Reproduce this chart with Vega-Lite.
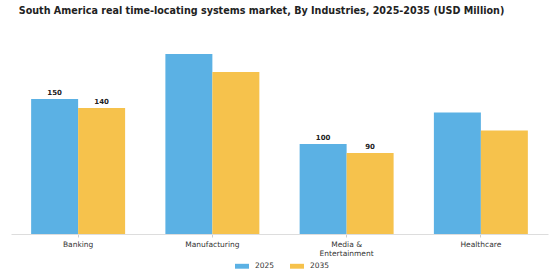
{
  "$schema": "https://vega.github.io/schema/vega-lite/v6.json",
  "autosize": "none",
  "width": 537,
  "height": 198,
  "padding": {"left": 11, "top": 36, "right": 12, "bottom": 46},
  "background": "white",
  "title": {
    "text": "South America real time-locating systems market, By Industries, 2025-2035 (USD Million)",
    "font": "DejaVu Sans",
    "fontSize": 9.6,
    "fontWeight": "bold",
    "color": "#222222",
    "anchor": "middle",
    "dx": -18,
    "offset": 20
  },
  "config": {
    "view": {"stroke": null},
    "font": "DejaVu Sans"
  },
  "data": {
    "values": [
      {"Industry": "Banking", "Year": "2025", "Value": 150},
      {"Industry": "Banking", "Year": "2035", "Value": 140},
      {"Industry": "Manufacturing", "Year": "2025", "Value": 200},
      {"Industry": "Manufacturing", "Year": "2035", "Value": 180},
      {"Industry": "Media & Entertainment", "Year": "2025", "Value": 100},
      {"Industry": "Media & Entertainment", "Year": "2035", "Value": 90},
      {"Industry": "Healthcare", "Year": "2025", "Value": 135},
      {"Industry": "Healthcare", "Year": "2035", "Value": 115}
    ]
  },
  "encoding": {
    "x": {
      "field": "Industry",
      "type": "nominal",
      "sort": null,
      "scale": {"paddingInner": 0.3, "paddingOuter": 0.15},
      "axis": {
        "title": null,
        "labelAngle": 0,
        "labelFontSize": 7.5,
        "labelColor": "#333333",
        "labelPadding": 3,
        "labelExpr": "datum.label == 'Media & Entertainment' ? ['Media &', 'Entertainment'] : datum.label",
        "domainColor": "#dddddd",
        "tickColor": "#cccccc",
        "tickSize": 3,
        "grid": false
      }
    },
    "xOffset": {"field": "Year", "type": "nominal", "scale": {"paddingInner": 0, "paddingOuter": 0}},
    "y": {
      "field": "Value",
      "type": "quantitative",
      "scale": {"domain": [0, 220]},
      "axis": null
    }
  },
  "layer": [
    {
      "mark": {"type": "bar"},
      "encoding": {
        "color": {
          "field": "Year",
          "type": "nominal",
          "scale": {"domain": ["2025", "2035"], "range": ["#5BB1E4", "#F6C24C"]},
          "legend": {
            "title": null,
            "orient": "none",
            "legendX": 223,
            "legendY": 222,
            "direction": "horizontal",
            "symbolType": "M-1,-0.35L1,-0.35L1,0.35L-1,0.35Z",
            "symbolSize": 196,
            "labelFontSize": 7.5,
            "labelColor": "#333333",
            "labelOffset": 5,
            "columnPadding": 14
          }
        }
      }
    },
    {
      "transform": [{"filter": {"field": "Industry", "oneOf": ["Banking", "Media & Entertainment"]}}],
      "mark": {"type": "text", "dy": -6, "fontSize": 7, "fontWeight": "bold", "color": "#222222"},
      "encoding": {
        "text": {"field": "Value", "type": "quantitative"}
      }
    }
  ]
}
